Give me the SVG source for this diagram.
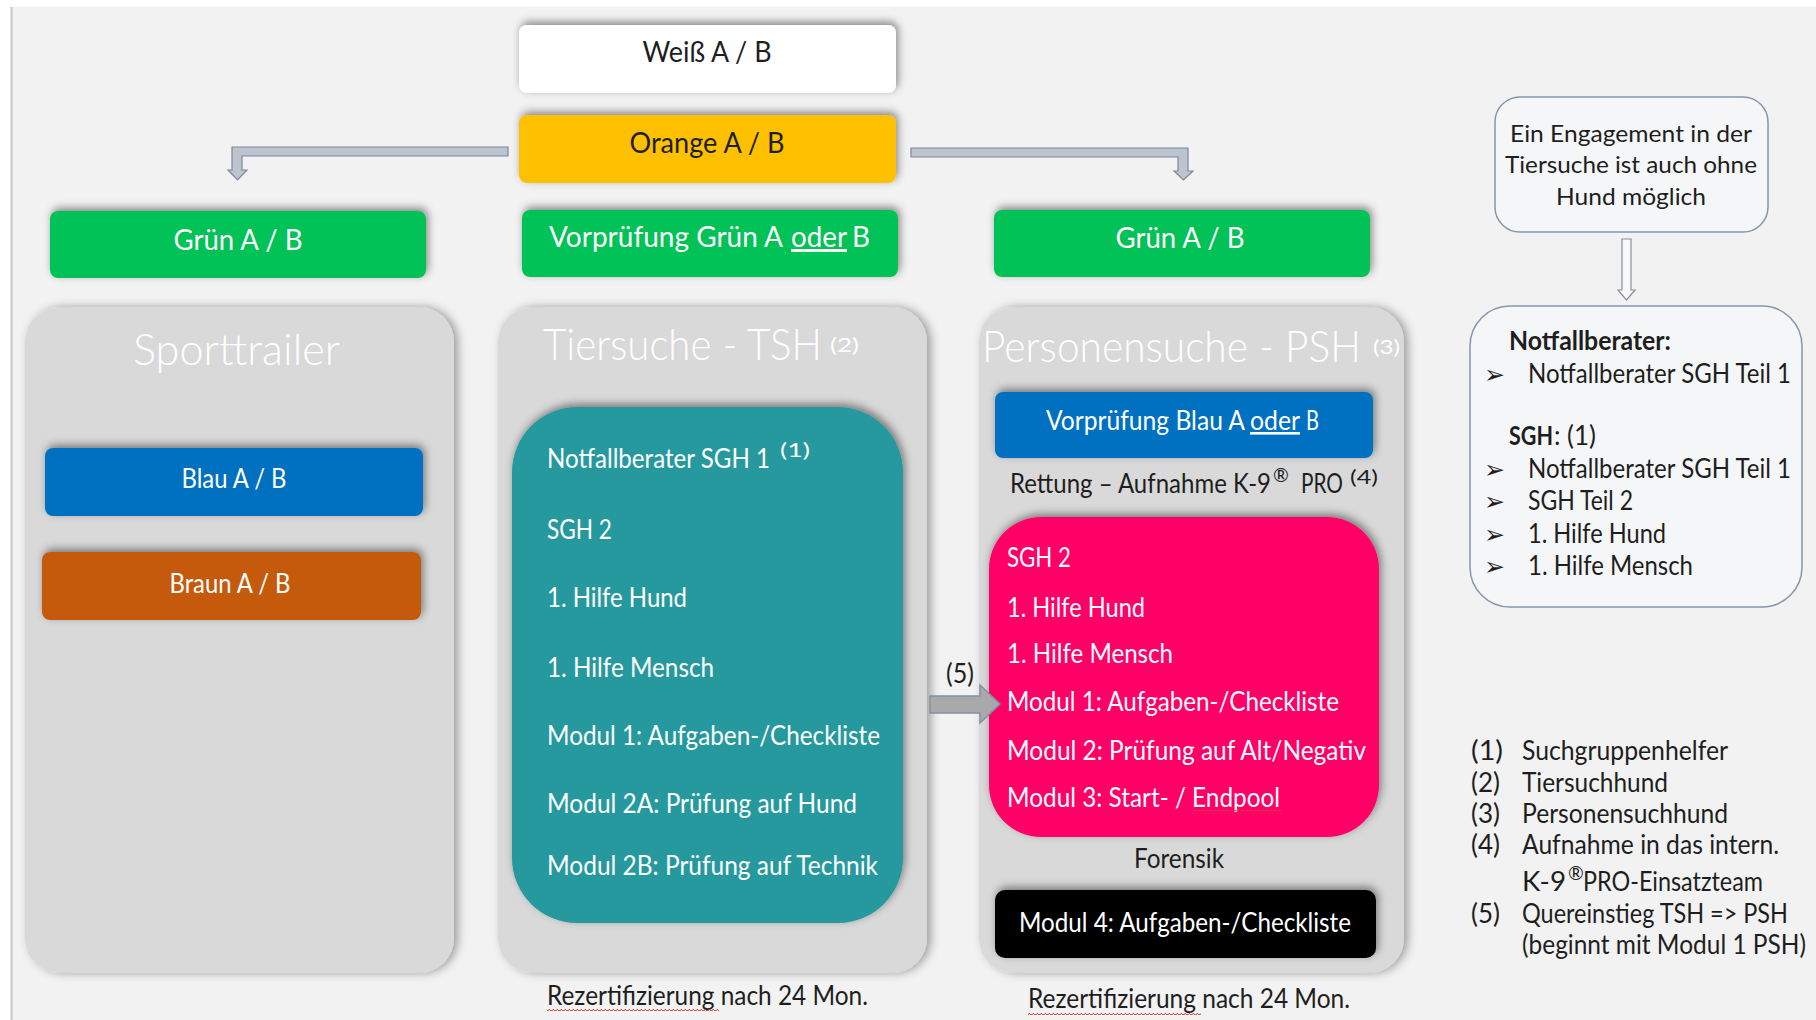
<svg xmlns="http://www.w3.org/2000/svg" width="1816" height="1020" viewBox="0 0 1816 1020">
<defs>
  <filter id="shPanel" x="-10%" y="-10%" width="125%" height="125%">
    <feDropShadow dx="4" dy="0" stdDeviation="5" flood-color="#000" flood-opacity="0.35"/>
  </filter>
  <filter id="shBox" x="-10%" y="-40%" width="125%" height="180%">
    <feDropShadow dx="2" dy="-3" stdDeviation="4" flood-color="#000" flood-opacity="0.45"/>
  </filter>
  <pattern id="squig" width="4" height="4" patternUnits="userSpaceOnUse">
    <path d="M0,3 Q1,0 2,2 T4,2" fill="none" stroke="#e03a3a" stroke-width="0.9"/>
  </pattern>
</defs>
<style>
  text { font-family: Lato, "Open Sans", "DejaVu Sans", sans-serif; font-size: 26px; }
  .w { fill: #ffffff; }
  .k { fill: #1e1e1e; }
  .big { font-size: 29px; }
  .title { font-size: 44px; font-weight: 300; fill: #ffffff; }
  .sup { font-size: 19px; font-weight: normal; }
  .note { font-size: 24px; fill: #1e1e1e; }
  .b { font-weight: bold; }
  .bul { font-family: "DejaVu Sans", sans-serif; font-size: 25px; fill: #1e1e1e; }
  .ul { text-decoration: underline; }
  .panel { fill: #d9d9d9; filter: url(#shPanel); }
  .box { filter: url(#shBox); }
  .notebox { fill: #f5f6f8; stroke: #8596ad; stroke-width: 1.5; }
  .conn { fill: #bcc4d0; stroke: #7d8898; stroke-width: 1.2; }
</style>

<rect x="0" y="0" width="1816" height="1020" fill="#ffffff"/>
<rect x="11" y="7" width="1805" height="1013" fill="#f2f2f2"/>
<line x1="11.5" y1="7" x2="11.5" y2="1020" stroke="#c6c6c6" stroke-width="2"/>

<g id="weiss">
  <rect class="box" x="519" y="25" width="377" height="68" rx="8" fill="#ffffff"/>
  <text class="k big" x="707" y="62" text-anchor="middle" textLength="129" lengthAdjust="spacingAndGlyphs">Weiß A / B</text>
</g>
<g id="orange">
  <rect class="box" x="519" y="115" width="377" height="68" rx="8" fill="#ffc000"/>
  <text class="k big" x="707" y="153" text-anchor="middle" textLength="155" lengthAdjust="spacingAndGlyphs">Orange A / B</text>
</g>
<g id="gruen-links">
  <rect class="box" x="50" y="211" width="376" height="67" rx="8" fill="#00c257"/>
  <text class="w big" x="238" y="250" text-anchor="middle" textLength="129" lengthAdjust="spacingAndGlyphs">Grün A / B</text>
</g>
<g id="vorpruefung-gruen">
  <rect class="box" x="522" y="210" width="376" height="67" rx="8" fill="#00c257"/>
  <text class="w big" y="247"><tspan x="549" textLength="234" lengthAdjust="spacingAndGlyphs">Vorprüfung Grün A</tspan><tspan class="ul" x="791" textLength="56" lengthAdjust="spacingAndGlyphs">oder</tspan><tspan x="852" textLength="18" lengthAdjust="spacingAndGlyphs">B</tspan></text>
</g>
<g id="gruen-rechts">
  <rect class="box" x="994" y="210" width="376" height="67" rx="8" fill="#00c257"/>
  <text class="w big" x="1180" y="248" text-anchor="middle" textLength="129" lengthAdjust="spacingAndGlyphs">Grün A / B</text>
</g>

<g id="sporttrailer">
  <rect class="panel" x="25" y="307" width="429" height="666" rx="35"/>
  <text class="title" x="133" y="365" textLength="207" lengthAdjust="spacingAndGlyphs">Sporttrailer</text>
</g>
<g id="blau">
  <rect class="box" x="45" y="448" width="378" height="68" rx="8" fill="#0070c0"/>
  <text class="w" x="234" y="488" text-anchor="middle" textLength="105" lengthAdjust="spacingAndGlyphs">Blau A / B</text>
</g>
<g id="braun">
  <rect class="box" x="42" y="552" width="379" height="68" rx="8" fill="#c55a11"/>
  <text class="w" x="230" y="593" text-anchor="middle" textLength="121" lengthAdjust="spacingAndGlyphs">Braun A / B</text>
</g>

<g id="tiersuche">
  <rect class="panel" x="498" y="307" width="429" height="666" rx="35"/>
  <text class="title" y="360"><tspan x="543" textLength="279" lengthAdjust="spacingAndGlyphs">Tiersuche - TSH</tspan><tspan class="sup" x="830" y="352" textLength="29" lengthAdjust="spacingAndGlyphs">(2)</tspan></text>
</g>
<g id="tsh-module">
  <rect class="box" x="512" y="407" width="391" height="516" rx="65" fill="#27999e"/>
  <text class="w" y="468"><tspan x="547" textLength="223" lengthAdjust="spacingAndGlyphs">Notfallberater SGH 1</tspan><tspan class="sup" x="780" y="457" textLength="30" lengthAdjust="spacingAndGlyphs">(1)</tspan></text>
  <text class="w" x="547" y="539" textLength="65" lengthAdjust="spacingAndGlyphs">SGH 2</text>
  <text class="w" x="547" y="607" textLength="140" lengthAdjust="spacingAndGlyphs">1. Hilfe Hund</text>
  <text class="w" x="547" y="677" textLength="167" lengthAdjust="spacingAndGlyphs">1. Hilfe Mensch</text>
  <text class="w" x="547" y="745" textLength="333" lengthAdjust="spacingAndGlyphs">Modul 1: Aufgaben-/Checkliste</text>
  <text class="w" x="547" y="813" textLength="310" lengthAdjust="spacingAndGlyphs">Modul 2A: Prüfung auf Hund</text>
  <text class="w" x="547" y="875" textLength="331" lengthAdjust="spacingAndGlyphs">Modul 2B: Prüfung auf Technik</text>
</g>
<g id="rezert-tsh">
  <text class="k" x="547" y="1005" textLength="321" lengthAdjust="spacingAndGlyphs">Rezertifizierung nach 24 Mon.</text>
  <rect x="547" y="1008" width="172" height="4" fill="url(#squig)"/>
</g>

<g id="personensuche">
  <rect class="panel" x="979" y="307" width="425" height="666" rx="35"/>
  <text class="title" y="362"><tspan x="982" textLength="379" lengthAdjust="spacingAndGlyphs">Personensuche - PSH</tspan><tspan class="sup" x="1373" y="354" textLength="27" lengthAdjust="spacingAndGlyphs">(3)</tspan></text>
</g>
<g id="vorpruefung-blau">
  <rect class="box" x="995" y="392" width="378" height="66" rx="8" fill="#0070c0"/>
  <text class="w" y="430"><tspan x="1046" textLength="199" lengthAdjust="spacingAndGlyphs">Vorprüfung Blau A</tspan><tspan class="ul" x="1250" textLength="50" lengthAdjust="spacingAndGlyphs">oder</tspan><tspan x="1306" textLength="13" lengthAdjust="spacingAndGlyphs">B</tspan></text>
</g>
<g id="rettung">
  <text class="k" y="493"><tspan x="1010" textLength="261" lengthAdjust="spacingAndGlyphs">Rettung – Aufnahme K-9</tspan><tspan class="sup" x="1273" y="482">®</tspan><tspan x="1301" y="493" textLength="42" lengthAdjust="spacingAndGlyphs">PRO</tspan><tspan class="sup" x="1350" y="484" textLength="28" lengthAdjust="spacingAndGlyphs">(4)</tspan></text>
</g>
<g id="psh-module">
  <rect class="box" x="989" y="517" width="390" height="320" rx="52" fill="#ff0066"/>
  <text class="w" x="1007" y="567" textLength="64" lengthAdjust="spacingAndGlyphs">SGH 2</text>
  <text class="w" x="1007" y="617" textLength="138" lengthAdjust="spacingAndGlyphs">1. Hilfe Hund</text>
  <text class="w" x="1007" y="663" textLength="166" lengthAdjust="spacingAndGlyphs">1. Hilfe Mensch</text>
  <text class="w" x="1007" y="711" textLength="332" lengthAdjust="spacingAndGlyphs">Modul 1: Aufgaben-/Checkliste</text>
  <text class="w" x="1007" y="760" textLength="359" lengthAdjust="spacingAndGlyphs">Modul 2: Prüfung auf Alt/Negativ</text>
  <text class="w" x="1007" y="807" textLength="273" lengthAdjust="spacingAndGlyphs">Modul 3: Start- / Endpool</text>
  <rect x="1192" y="810" width="91" height="4" fill="url(#squig)"/>
</g>
<g id="forensik">
  <text class="k" x="1179" y="868" text-anchor="middle" textLength="90" lengthAdjust="spacingAndGlyphs">Forensik</text>
</g>
<g id="modul4">
  <rect class="box" x="995" y="890" width="381" height="68" rx="10" fill="#000000"/>
  <text class="w" x="1019" y="932" textLength="332" lengthAdjust="spacingAndGlyphs">Modul 4: Aufgaben-/Checkliste</text>
</g>
<g id="rezert-psh">
  <text class="k" x="1028" y="1008" textLength="322" lengthAdjust="spacingAndGlyphs">Rezertifizierung nach 24 Mon.</text>
  <rect x="1028" y="1011" width="173" height="4" fill="url(#squig)"/>
</g>

<g id="hinweis">
  <rect class="notebox" x="1495" y="97" width="273" height="135" rx="25"/>
  <text class="note" x="1631" y="142" text-anchor="middle" textLength="242" lengthAdjust="spacingAndGlyphs">Ein Engagement in der</text>
  <text class="note" x="1631" y="173" text-anchor="middle" textLength="252" lengthAdjust="spacingAndGlyphs">Tiersuche ist auch ohne</text>
  <text class="note" x="1631" y="205" text-anchor="middle" textLength="150" lengthAdjust="spacingAndGlyphs">Hund möglich</text>
</g>
<g id="notfallberater">
  <rect class="notebox" x="1470" y="306" width="332" height="301" rx="40"/>
  <text class="k b" x="1509" y="350" textLength="162" lengthAdjust="spacingAndGlyphs">Notfallberater:</text>
  <text class="bul" x="1484" y="383">➢</text>
  <text class="k" x="1528" y="383" textLength="263" lengthAdjust="spacingAndGlyphs">Notfallberater SGH Teil 1</text>
  <text class="k" y="445"><tspan class="b" x="1509" textLength="44" lengthAdjust="spacingAndGlyphs">SGH</tspan><tspan x="1554" textLength="42" lengthAdjust="spacingAndGlyphs">: (1)</tspan></text>
  <text class="bul" x="1484" y="478">➢</text>
  <text class="k" x="1528" y="478" textLength="263" lengthAdjust="spacingAndGlyphs">Notfallberater SGH Teil 1</text>
  <text class="bul" x="1484" y="510">➢</text>
  <text class="k" x="1528" y="510" textLength="105" lengthAdjust="spacingAndGlyphs">SGH Teil 2</text>
  <text class="bul" x="1484" y="543">➢</text>
  <text class="k" x="1528" y="543" textLength="138" lengthAdjust="spacingAndGlyphs">1. Hilfe Hund</text>
  <text class="bul" x="1484" y="575">➢</text>
  <text class="k" x="1528" y="575" textLength="165" lengthAdjust="spacingAndGlyphs">1. Hilfe Mensch</text>
</g>

<g id="legende">
  <text class="k" x="1471" y="760" textLength="32" lengthAdjust="spacingAndGlyphs">(1)</text>
  <text class="k" x="1522" y="760" textLength="206" lengthAdjust="spacingAndGlyphs">Suchgruppenhelfer</text>
  <text class="k" x="1471" y="792" textLength="29" lengthAdjust="spacingAndGlyphs">(2)</text>
  <text class="k" x="1522" y="792" textLength="146" lengthAdjust="spacingAndGlyphs">Tiersuchhund</text>
  <text class="k" x="1471" y="823" textLength="29" lengthAdjust="spacingAndGlyphs">(3)</text>
  <text class="k" x="1522" y="823" textLength="206" lengthAdjust="spacingAndGlyphs">Personensuchhund</text>
  <text class="k" x="1471" y="854" textLength="29" lengthAdjust="spacingAndGlyphs">(4)</text>
  <text class="k" x="1522" y="854" textLength="257" lengthAdjust="spacingAndGlyphs">Aufnahme in das intern.</text>
  <text class="k" y="891"><tspan x="1522" textLength="44" lengthAdjust="spacingAndGlyphs">K-9</tspan><tspan class="sup" x="1568" y="880">®</tspan><tspan x="1583" y="891" textLength="180" lengthAdjust="spacingAndGlyphs">PRO-Einsatzteam</tspan></text>
  <text class="k" x="1471" y="923" textLength="29" lengthAdjust="spacingAndGlyphs">(5)</text>
  <text class="k" x="1522" y="923" textLength="266" lengthAdjust="spacingAndGlyphs">Quereinstieg TSH =&gt; PSH</text>
  <text class="k" x="1522" y="954" textLength="284" lengthAdjust="spacingAndGlyphs">(beginnt mit Modul 1 PSH)</text>
</g>

<g id="connectors">
  <path class="conn" d="M508,147 L232,147 L232,170 L228,170 L237.5,180 L247,170 L242,170 L242,156 L508,156 Z"/>
  <path class="conn" d="M911,148 L1188,148 L1188,171 L1193,171 L1183.5,180 L1174,171 L1178,171 L1178,157 L911,157 Z"/>
  <path d="M930,696 L980,696 L980,685 L1000,704 L980,723 L980,713 L930,713 Z" fill="#a9a9a9" stroke="#8391a5" stroke-width="1.5"/>
  <text class="k" x="960" y="683" text-anchor="middle" font-size="22" textLength="28" lengthAdjust="spacingAndGlyphs">(5)</text>
  <path d="M1622,239 L1631,239 L1631,290 L1635,290 L1626.5,300 L1618,290 L1622,290 Z" fill="#f8f8f8" stroke="#8a8f98" stroke-width="1.2"/>
</g>
</svg>
